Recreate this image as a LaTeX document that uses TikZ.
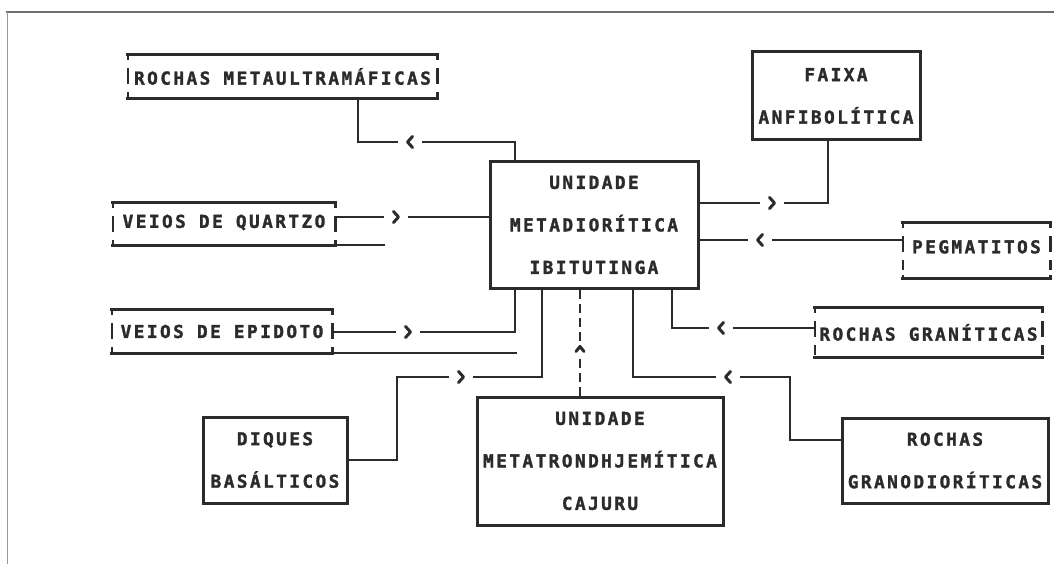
\documentclass[tikz,border=0pt]{standalone}
\usepackage{fontspec}
\newfontfamily\dgmono{DejaVu Sans Mono}[LetterSpace=13.5, FakeBold=1.6]
\newcommand\dgfont{\dgmono\bfseries\fontsize{17.8}{42.5}\selectfont}
\definecolor{ink}{HTML}{2B2B2B}
\definecolor{framecol}{HTML}{6E6E6E}
\tikzset{
  box/.style={draw=ink, line width=3pt, inner sep=0pt, align=center, font=\dgfont, text=ink},
  brk/.style={draw=none, inner sep=0pt, align=center, font=\dgfont, text=ink},
  hline/.style={draw=ink, line width=3pt, line cap=rect},
  vline/.style={draw=ink, line width=2.6pt, dash pattern=on 5pt off 8pt on 16pt off 8pt on 10pt},
  conn/.style={draw=ink, line width=2.9pt},
  ext/.style={draw=ink, line width=1.8pt},
  chevL/.style={minimum width=24pt, minimum height=16pt, inner sep=0pt,
    path picture={\draw[draw=ink, line width=3pt, line cap=round, line join=round]
      ([shift={(2.5pt,5.5pt)}]path picture bounding box.center) --
      ([shift={(-2.5pt,0pt)}]path picture bounding box.center) --
      ([shift={(2.5pt,-5.5pt)}]path picture bounding box.center);}},
  chevR/.style={minimum width=24pt, minimum height=16pt, inner sep=0pt,
    path picture={\draw[draw=ink, line width=3pt, line cap=round, line join=round]
      ([shift={(-2.5pt,5.5pt)}]path picture bounding box.center) --
      ([shift={(2.5pt,0pt)}]path picture bounding box.center) --
      ([shift={(-2.5pt,-5.5pt)}]path picture bounding box.center);}},
  chevU/.style={minimum width=16pt, minimum height=16pt, inner sep=0pt,
    path picture={\draw[draw=ink, line width=3pt, line cap=round, line join=round]
      ([shift={(-4pt,-2.5pt)}]path picture bounding box.center) --
      ([shift={(0pt,2.5pt)}]path picture bounding box.center) --
      ([shift={(4pt,-2.5pt)}]path picture bounding box.center);}},
}
\begin{document}
\begin{tikzpicture}[x=1pt,y=-1pt]
\useasboundingbox (0,0) rectangle (1054,564);
% frame
\draw[draw=framecol, line width=2.5pt] (6,12) -- (1054,12);
\draw[draw=framecol!70, line width=1pt] (7,12) -- (7,564);

% boxes
\node[brk, minimum width=309pt, minimum height=43pt] (rmu) at (282.5,76.5) {ROCHAS METAULTRAMÁFICAS};
\node[box, minimum width=168pt, minimum height=88pt] (faixa) at (836,96) {FAIXA\\ANFIBOLÍTICA};
\node[box, minimum width=208pt, minimum height=126pt] (central) at (594,225) {UNIDADE\\METADIORÍTICA\\IBITUTINGA};
\node[brk, minimum width=222pt, minimum height=42pt] (quartzo) at (224,224) {\raisebox{5.5pt}{VEIOS DE QUARTZO}};
\node[brk, minimum width=147pt, minimum height=55pt] (pegma) at (976.5,250.5) {\raisebox{7.5pt}{PEGMATITOS}};
\node[brk, minimum width=220pt, minimum height=43pt] (epidoto) at (222,331.5) {VEIOS DE EPIDOTO};
\node[brk, minimum width=227pt, minimum height=49pt] (granit) at (928.5,332.5) {ROCHAS GRANÍTICAS};
\node[box, minimum width=144pt, minimum height=86pt] (diques) at (275,460) {DIQUES\\BASÁLTICOS};
\node[box, minimum width=246pt, minimum height=128pt] (cajuru) at (600,461) {UNIDADE\\METATRONDHJEMÍTICA\\CAJURU};
\node[box, minimum width=206pt, minimum height=85pt] (granod) at (945,460.5) {ROCHAS\\GRANODIORÍTICAS};

% bracket-style box outlines
\foreach \n in {rmu,quartzo,pegma,epidoto,granit}{
  \draw[hline] (\n.north west) -- (\n.north east) (\n.south west) -- (\n.south east);
  \draw[vline] (\n.north west) -- (\n.south west) (\n.north east) -- (\n.south east);
}

% chevrons
\node[chevL] (ch1) at (410,142) {};
\node[chevR] (ch2) at (772,203) {};
\node[chevR] (ch3) at (396,217) {};
\node[chevL] (ch4) at (760,240) {};
\node[chevR] (ch5) at (408,332) {};
\node[chevR] (ch6) at (461,377) {};
\node[chevU] (ch7) at (580,349) {};
\node[chevL] (ch8) at (728,377) {};
\node[chevL] (ch9) at (721,328) {};

% connectors
\draw[conn] (rmu.south -| 358,0) |- (ch1.west);
\draw[conn] (ch1.east) -| (central.north -| 515,0);

\draw[conn] (central.east |- 0,203) -- (ch2.west);
\draw[conn] (ch2.east) -| (faixa.south -| 828,0);

\draw[conn] (quartzo.east |- 0,217) -- (ch3.west);
\draw[conn] (ch3.east) -- (central.west |- 0,217);
\draw[ext] (quartzo.south east) -- ++(50,0);

\draw[conn] (central.east |- 0,240) -- (ch4.west);
\draw[conn] (ch4.east) -- (pegma.west |- 0,240);

\draw[conn] (epidoto.east |- 0,332) -- (ch5.west);
\draw[conn] (ch5.east) -| (central.south -| 515,0);
\draw[ext] (epidoto.south east) -- ++(185,0);

\draw[conn] (diques.east |- 0,460) -- (397,460) |- (ch6.west);
\draw[conn] (ch6.east) -| (central.south -| 542,0);

\draw[conn, dash pattern=on 9pt off 5pt] (cajuru.north -| 580,0) -- (ch7.south);
\draw[conn, dash pattern=on 9pt off 5pt] (ch7.north) -- (central.south -| 580,0);

\draw[conn] (granod.west |- 0,440) -- (790,440) |- (ch8.east);
\draw[conn] (ch8.west) -| (central.south -| 633,0);

\draw[conn] (granit.west |- 0,328) -- (ch9.east);
\draw[conn] (ch9.west) -| (central.south -| 672,0);
\end{tikzpicture}
\end{document}
